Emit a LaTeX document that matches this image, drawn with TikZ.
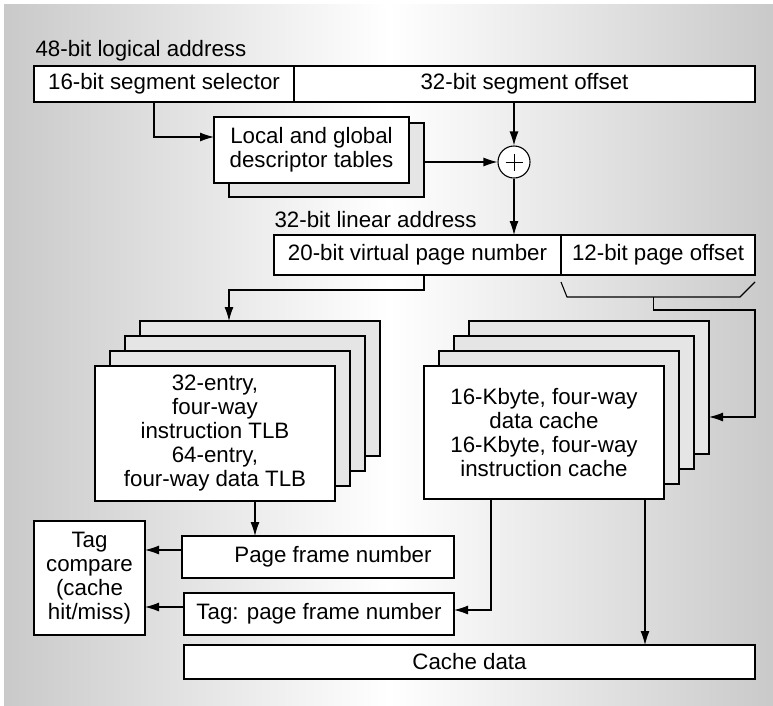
\documentclass[tikz,border=0pt]{standalone}
\usepackage{fontspec}
\setmainfont{Liberation Sans}
\usepackage{tikz}
\usetikzlibrary{arrows.meta}

\definecolor{panelgray}{gray}{0.79}
\definecolor{layergray}{gray}{0.9}

\begin{document}
\begin{tikzpicture}[x = 1pt, y = -1pt, line width = 1.1pt,
    box/.style = {draw, fill = white, inner sep = 0, outer sep = 0,
        anchor = north west, align = center},
    backbox/.style = {box, fill = layergray},
    addr/.style = {inner sep = 0, anchor = base west},
    arr/.style = {-{Latex[length = 14pt, width = 9pt]}}]
    \fontsize{22.3}{24}\selectfont
    %% background
    \useasboundingbox (0, 0) rectangle (773, 705);
    \shade[left color = panelgray, right color = panelgray, middle color = white]
        (4, 4) rectangle (773, 705);

    %% logical address
    \node[addr] (logical) at (35, 56) {48-bit logical address};
    \node[box, minimum width = 260, minimum height = 36] (sel) at (34, 66)
        {16-bit segment selector};
    \node[box, minimum width = 461, minimum height = 36] (off) at (294, 66)
        {32-bit segment offset};

    %% descriptor tables and adder
    \node[backbox, minimum width = 195, minimum height = 74] (descback) at (229, 123) {};
    \node[box, minimum width = 195, minimum height = 66] (desc) at (214, 117)
        {Local and global\\descriptor tables};
    \node[draw, circle, fill = white, minimum size = 32, inner sep = 0] (plus) at (514, 162) {};
    \draw[line width = 0.8pt] ([xshift = -8.5]plus.center) -- ([xshift = 8.5]plus.center)
        ([yshift = -8.5]plus.center) -- ([yshift = 8.5]plus.center);

    %% linear address
    \node[addr] (linear) at (274, 227) {32-bit linear address};
    \node[box, minimum width = 287, minimum height = 40] (vpn) at (274, 235)
        {20-bit virtual page number};
    \node[box, minimum width = 194, minimum height = 40] (pgoff) at (561, 235)
        {12-bit page offset};

    %% TLB stack
    \foreach \k in {3, 2, 1}
        \node[backbox, minimum width = 240, minimum height = 135] (tlb\k)
            at ({95 + 15*\k}, {366 - 15*\k}) {};
    \node[box, minimum width = 240, minimum height = 135] (tlb0) at (95, 366)
        {32-entry,\\four-way\\instruction TLB\\64-entry,\\four-way data TLB};

    %% cache stack
    \foreach \k in {3, 2, 1}
        \node[backbox, minimum width = 240, minimum height = 133] (cache\k)
            at ({424 + 15*\k}, {366 - 15*\k}) {};
    \node[box, minimum width = 240, minimum height = 133] (cache0) at (424, 366)
        {16-Kbyte, four-way\\data cache\\16-Kbyte, four-way\\instruction cache};

    %% outputs
    \node[box, minimum width = 111, minimum height = 114] (tagcmp) at (34, 521)
        {Tag\\compare\\(cache\\hit/miss)};
    \node[box, minimum width = 272, minimum height = 42] (pfn) at (182, 536)
        {\hspace*{30pt}Page frame number};
    \node[box, minimum width = 270, minimum height = 42] (tagpfn) at (184, 593)
        {Tag: page frame number};
    \node[box, minimum width = 571, minimum height = 34] (cdata) at (184, 645)
        {Cache data};

    %% arrows
    \draw[arr] ([xshift = 120]sel.south west) |- ([yshift = 13]desc.west);
    \draw[arr] (off.south -| plus) -- (plus);
    \draw[arr] (descback.east |- plus) -- (plus);
    \draw[arr] (plus) -- (plus |- vpn.north);
    \draw[arr] ([xshift = 150]vpn.south west) -- ++(0, 15)
        -| ([xshift = 89]tlb3.north west);

    %% offset bracket
    \draw ([yshift = -7]pgoff.south west) -- ++(6, 15) -- coordinate (brk) ++(173, 0)
        -- ([yshift = -7]pgoff.south east);
    \coordinate (cin) at ([yshift = -29.5]cache3.east);
    \draw[arr] (brk) -- ++(0, 13) -| (cin -| pgoff.east) -- (cin);

    \coordinate (tlbout) at ([xshift = 160]tlb0.south west);
    \draw[arr] (tlbout) -- (tlbout |- pfn.north);
    \coordinate (pfnout) at ([yshift = 7]pfn.west);
    \draw[arr] (pfnout) -- (pfnout -| tagcmp.east);
    \coordinate (tagpfnout) at ([yshift = 7]tagpfn.west);
    \draw[arr] (tagpfnout) -- (tagpfnout -| tagcmp.east);
    \coordinate (tagout) at ([xshift = 67]cache0.south west);
    \draw[arr] (tagout) |- ([yshift = 4]tagpfn.east);
    \coordinate (dataout) at ([xshift = 221]cache0.south west);
    \draw[arr] (dataout) -- (dataout |- cdata.north);
\end{tikzpicture}
\end{document}
